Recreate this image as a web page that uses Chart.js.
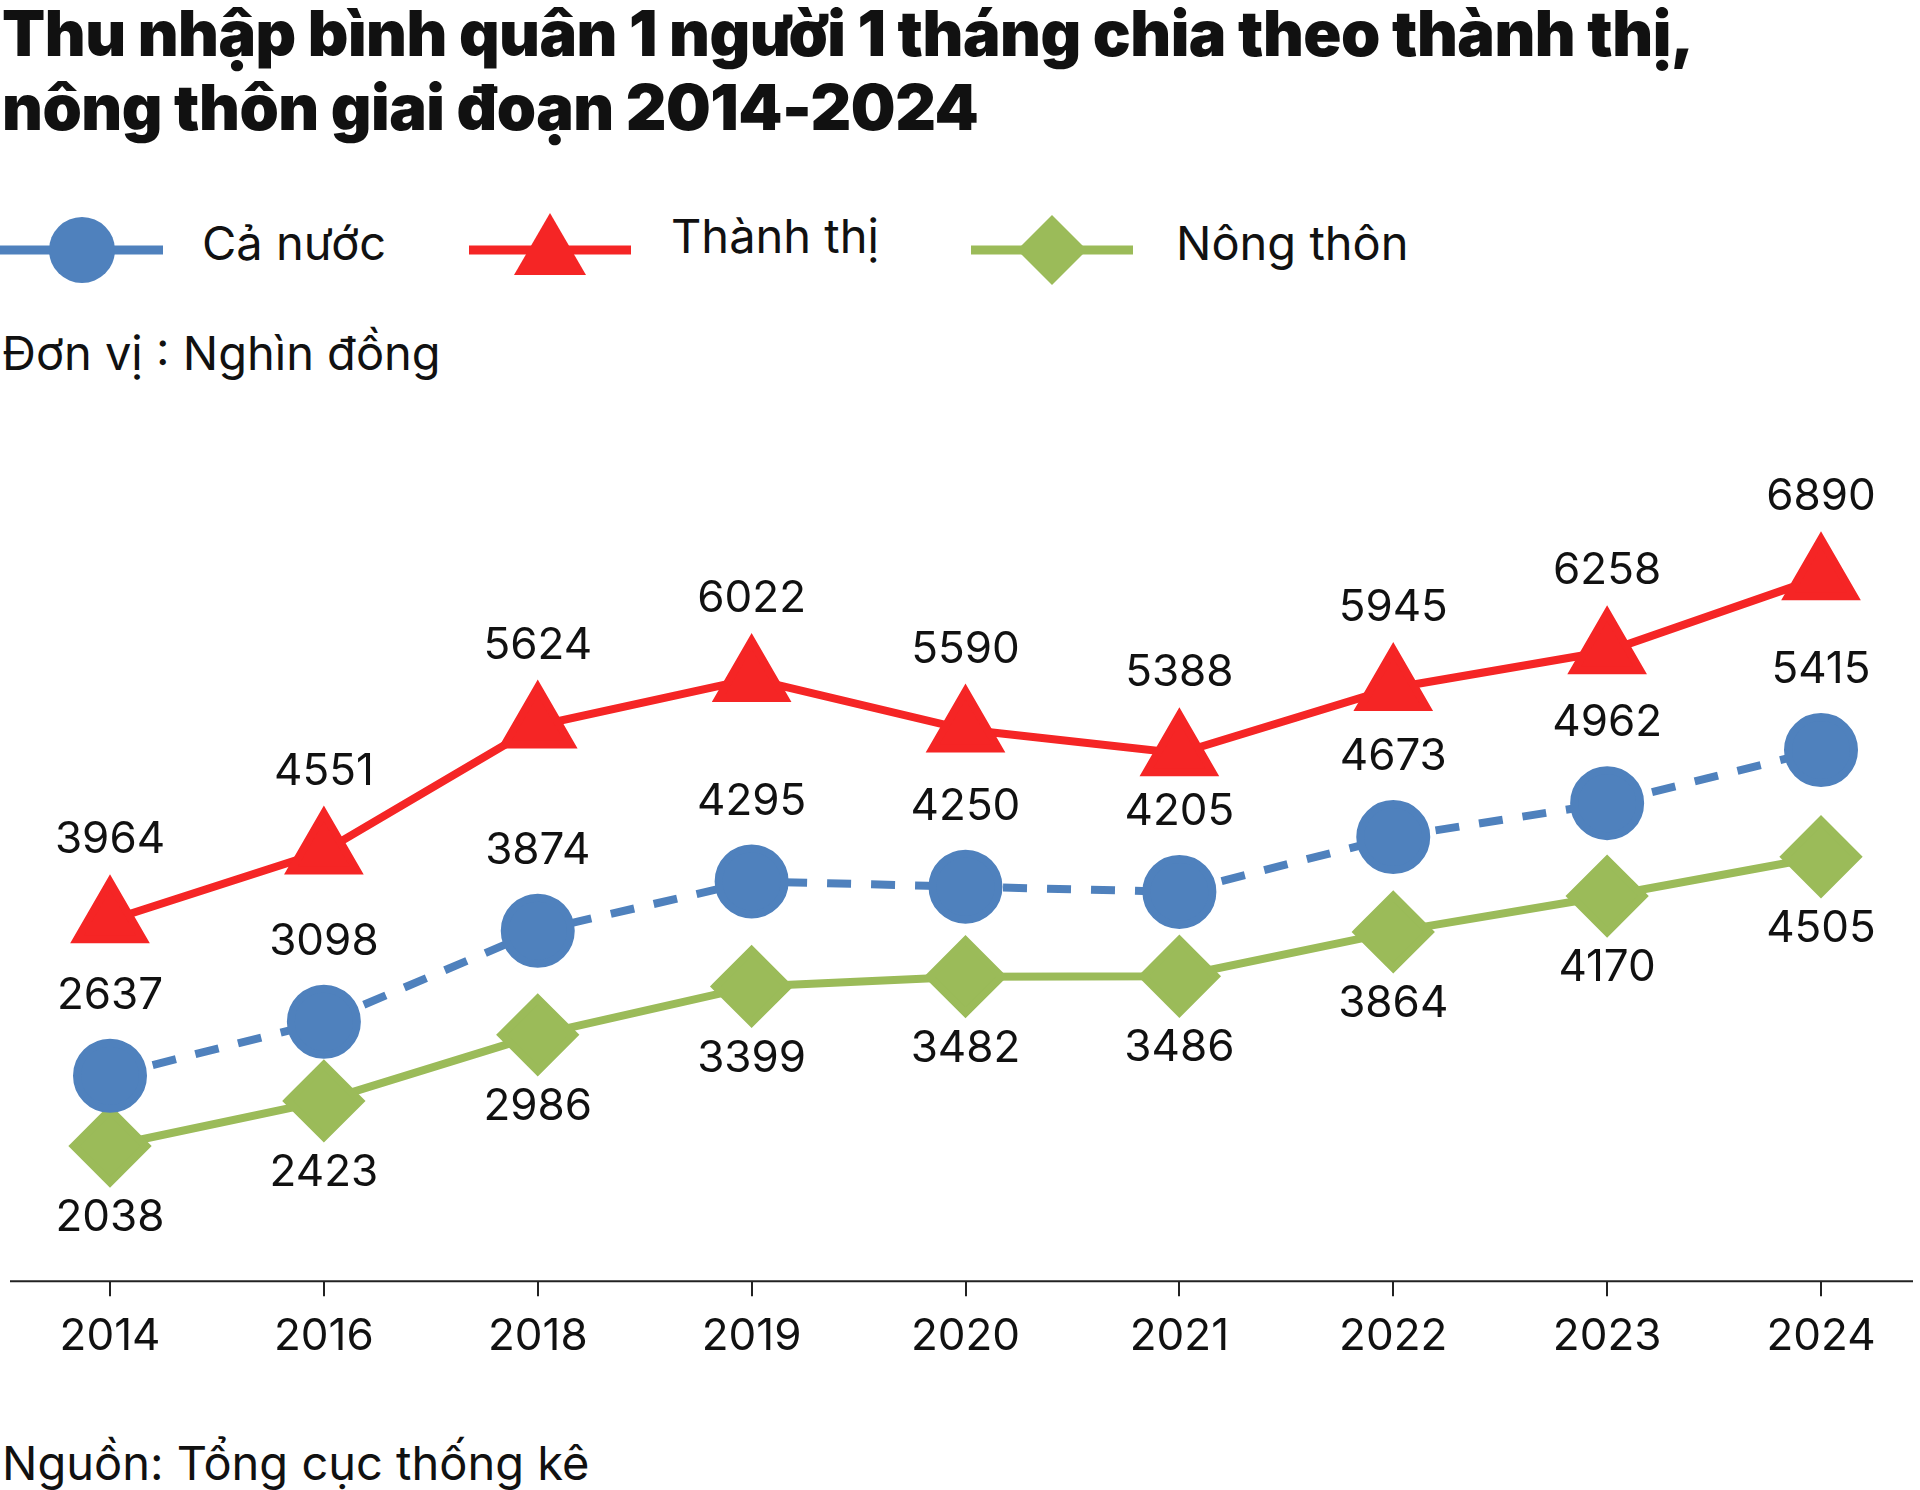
<!DOCTYPE html>
<html><head><meta charset="utf-8">
<script src="https://cdn.jsdelivr.net/npm/chart.js@4"></script>
<style>
body{margin:0;width:1920px;height:1490px;background:#fff;font-family:Inter,"Noto Sans",sans-serif;color:#111;position:relative;overflow:hidden}
.t{position:absolute;left:2px;font-weight:900;font-size:63px;letter-spacing:-0.5px;line-height:74px}
.lg{position:absolute;top:214px;font-size:47px}
.lg span{position:absolute;top:0;white-space:nowrap}
.u{position:absolute;left:2px;top:324px;font-size:47px}
.src{position:absolute;left:2px;top:1434px;font-size:47px}
#wrap{position:absolute;left:0;top:367px;width:1920px;height:1010px}
</style></head><body>
<div class="t" style="top:-4px">Thu nhập bình quân 1 người 1 tháng chia theo thành thị,<br>nông thôn giai đoạn 2014-2024</div>
<svg style="position:absolute;left:0;top:205px" width="1160" height="90">
<line x1="0" y1="45" x2="163" y2="45" stroke="#4f81bd" stroke-width="9"/><circle cx="82" cy="45" r="33" fill="#4f81bd"/>
<line x1="469" y1="45" x2="631" y2="45" stroke="#f52525" stroke-width="9"/><polygon points="550,8 586,70 514,70" fill="#f52525"/>
<line x1="971" y1="45" x2="1133" y2="45" stroke="#9bbb59" stroke-width="9"/><polygon points="1052,10 1087,45 1052,80 1017,45" fill="#9bbb59"/>
</svg>
<div class="lg"><span style="left:202px">Cả nước</span><span style="left:671px;top:-7px">Thành thị</span><span style="left:1176px">Nông thôn</span></div>
<div class="u">Đơn vị : Nghìn đồng</div>
<div id="wrap"><canvas id="c"></canvas></div>
<div class="src">Nguồn: Tổng cục thống kê</div>
<script>
const years = ["2014","2016","2018","2019","2020","2021","2022","2023","2024"];
const caNuoc = [2637,3098,3874,4295,4250,4205,4673,4962,5415];
const thanhThi = [3964,4551,5624,6022,5590,5388,5945,6258,6890];
const nongThon = [2038,2423,2986,3399,3482,3486,3864,4170,4505];

// nhãn số liệu + trục ngang
const labelsPlugin = {
  id: "lbl",
  afterDatasetsDraw(chart) {
    const ctx = chart.ctx;
    const offs = [-80, -80, 72];
    ctx.save();
    ctx.font = "44px Inter, 'Noto Sans', sans-serif";
    ctx.fillStyle = "#111";
    ctx.textAlign = "center";
    ctx.textBaseline = "middle";
    chart.data.datasets.forEach((ds, i) => {
      chart.getDatasetMeta(i).data.forEach((pt, j) => {
        ctx.fillText(ds.data[j], pt.x, pt.y + offs[i]);
      });
    });
    const y = chart.chartArea.bottom;
    ctx.strokeStyle = "#222";
    ctx.lineWidth = 2;
    ctx.beginPath(); ctx.moveTo(10, y); ctx.lineTo(1913, y); ctx.stroke();
    ctx.restore();
  }
};

new Chart(document.getElementById("c"), {
  type: "line",
  data: {
    labels: years,
    datasets: [
      { label: "Cả nước", data: caNuoc, borderColor: "#4f81bd", backgroundColor: "#4f81bd",
        borderWidth: 8, borderDash: [24, 20], pointStyle: "circle", pointRadius: 33, pointHoverRadius: 33 },
      { label: "Thành thị", data: thanhThi, borderColor: "#f52525", backgroundColor: "#f52525",
        borderWidth: 8, pointStyle: "triangle", pointRadius: 38, pointHoverRadius: 38 },
      { label: "Nông thôn", data: nongThon, borderColor: "#9bbb59", backgroundColor: "#9bbb59",
        borderWidth: 8, pointStyle: "rectRot", pointRadius: 36, pointHoverRadius: 36 },
    ],
  },
  options: {
    responsive: true,
    maintainAspectRatio: false,
    animation: false,
    layout: { padding: { top: 20, left: 110, right: 99, bottom: 0 } },
    plugins: { legend: { display: false }, tooltip: { enabled: false } },
    scales: {
      x: {
        offset: false,
        border: { display: false },
        grid: { drawOnChartArea: false, tickLength: 15, color: "#222", lineWidth: 2 },
        ticks: { color: "#111", font: { size: 44, family: "Inter" }, padding: 14, maxRotation: 0 },
      },
      y: { display: false, min: 885, max: 8290 },
    },
  },
  plugins: [labelsPlugin],
});
</script>
</body></html>
